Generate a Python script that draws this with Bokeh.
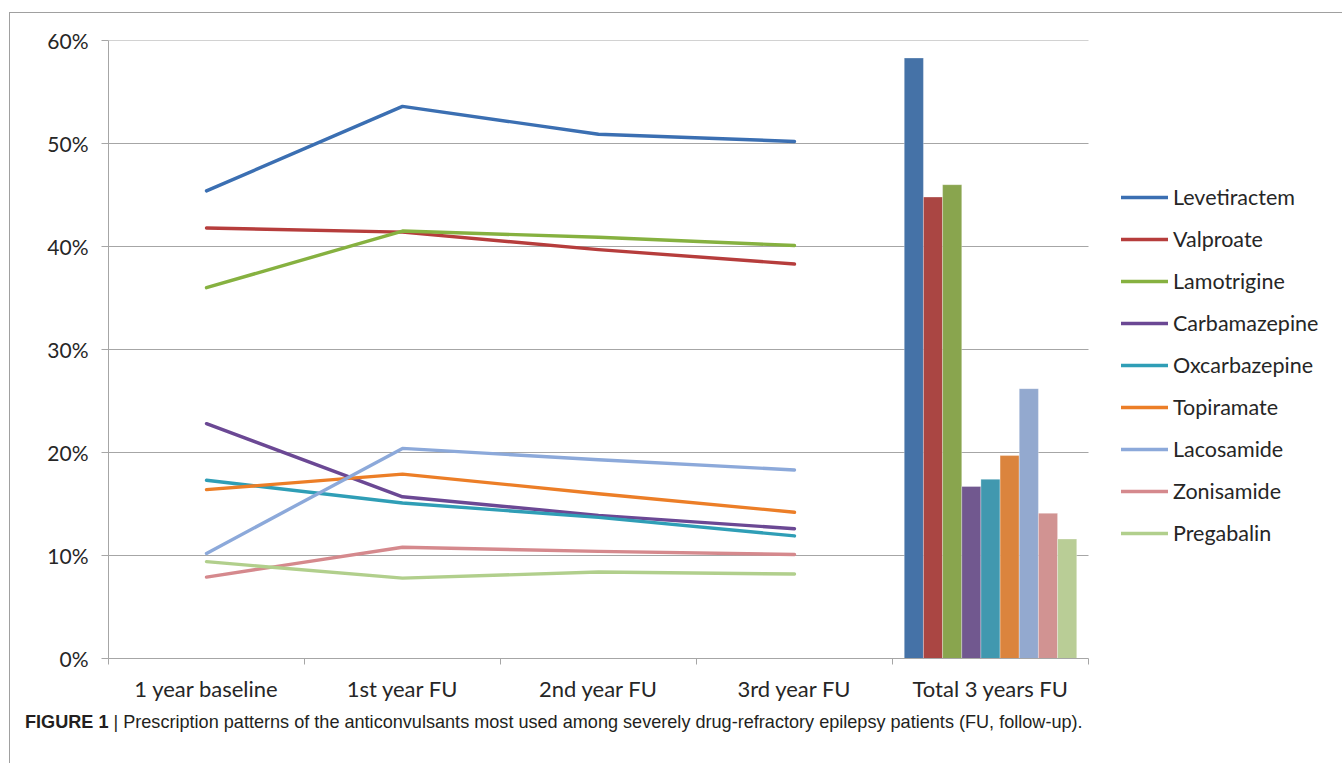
from bokeh.plotting import figure
from bokeh.layouts import column
from bokeh.models import (FixedTicker, Legend, LegendItem, ColumnDataSource,
                          Range1d, NumeralTickFormatter, Div)
from bokeh.embed import file_html
from bokeh.resources import INLINE

# ---- data -------------------------------------------------------------
periods = ["1 year baseline", "1st year FU", "2nd year FU", "3rd year FU"]
total_label = "Total 3 years FU"

drugs = ["Levetiractem", "Valproate", "Lamotrigine", "Carbamazepine",
         "Oxcarbazepine", "Topiramate", "Lacosamide", "Zonisamide", "Pregabalin"]

levetiractem = [45.4, 53.6, 50.9, 50.2]
valproate = [41.8, 41.4, 39.7, 38.3]
lamotrigine = [36.0, 41.5, 40.9, 40.1]
carbamazepine = [22.8, 15.7, 13.9, 12.6]
oxcarbazepine = [17.3, 15.1, 13.7, 11.9]
topiramate = [16.4, 17.9, 16.0, 14.2]
lacosamide = [10.2, 20.4, 19.3, 18.3]
zonisamide = [7.9, 10.8, 10.4, 10.1]
pregabalin = [9.4, 7.8, 8.4, 8.2]

total_3y = [58.3, 44.8, 46.0, 16.7, 17.4, 19.7, 26.2, 14.1, 11.6]

y_ticks = [0, 10, 20, 30, 40, 50, 60]

caption_head = "FIGURE 1"
caption_body = ("| Prescription patterns of the anticonvulsants most used among "
                "severely drug-refractory epilepsy patients (FU, follow-up).")

series = [levetiractem, valproate, lamotrigine, carbamazepine, oxcarbazepine,
          topiramate, lacosamide, zonisamide, pregabalin]

line_colors = ["#3B6FB2", "#B63D3C", "#86B140", "#6B4894", "#2F9EB6",
               "#EC7E27", "#8CA9DA", "#D5898D", "#B1CF8C"]
bar_colors = ["#4572A7", "#AA4643", "#89A54E", "#71588F", "#4198AF",
              "#DB843D", "#93A9CF", "#D19392", "#B9CD96"]

categories = periods + [total_label]
n_cat = len(categories)

# ---- sizes ------------------------------------------------------------
W = 1332            # inner width inside the page frame
H_MAIN = 700
H_CAP = 50
LEFT = 98           # plot area starts here
AXIS_END = 1078     # x-axis ends here; legend sits to the right
TOP = 27
BOTTOM = 645
px_per_cat = (AXIS_END - LEFT) / n_cat
x_end = n_cat + (W - AXIS_END) / px_per_cat

axis_font = "Lato"
text_color = "#262626"
grid_gray = "#A6A6A6"

# ---- main chart -------------------------------------------------------
p = figure(width=W, height=H_MAIN, output_backend="svg", toolbar_location=None,
           x_range=Range1d(0, x_end), y_range=Range1d(0, 60),
           min_border_left=LEFT, min_border_right=0,
           min_border_top=TOP, min_border_bottom=H_MAIN - BOTTOM,
           background_fill_color="white", border_fill_color="white")
p.outline_line_color = None

# y axis
p.yaxis.ticker = FixedTicker(ticks=y_ticks)
p.yaxis.formatter = NumeralTickFormatter(format="0")
p.yaxis.major_label_overrides = {t: f"{t}%" for t in y_ticks}
p.yaxis.axis_line_color = grid_gray
p.yaxis.major_tick_line_color = grid_gray
p.yaxis.major_tick_out = 7
p.yaxis.major_tick_in = 0
p.yaxis.minor_tick_line_color = None
p.yaxis.major_label_standoff = 13
p.yaxis.major_label_text_font = axis_font
p.yaxis.major_label_text_font_size = "21px"
p.yaxis.major_label_text_color = text_color

# x axis: labels at category centres, tick marks at category boundaries
centers = [i + 0.5 for i in range(n_cat)]
p.xaxis.ticker = FixedTicker(ticks=centers, minor_ticks=list(range(n_cat + 1)))
p.xaxis.bounds = (0, n_cat)
p.xaxis.major_label_overrides = {c: lab for c, lab in zip(centers, categories)}
p.xaxis.axis_line_color = grid_gray
p.xaxis.major_tick_line_color = None
p.xaxis.minor_tick_line_color = grid_gray
p.xaxis.minor_tick_out = 6
p.xaxis.minor_tick_in = 0
p.xaxis.major_label_standoff = 10
p.xaxis.major_label_text_font = axis_font
p.xaxis.major_label_text_font_size = "22px"
p.xaxis.major_label_text_color = text_color

# horizontal gridlines limited to the category span
p.xgrid.grid_line_color = None
p.ygrid.grid_line_color = None
grid_y = y_ticks[1:]
p.segment(x0=[0] * len(grid_y), x1=[n_cat] * len(grid_y), y0=grid_y, y1=grid_y,
          line_color=grid_gray, line_width=1, level="underlay")

# lines for the yearly periods
line_x = centers[:len(periods)]
renderers = []
for name, vals, col in zip(drugs, series, line_colors):
    src = ColumnDataSource(dict(x=line_x, y=vals))
    r = p.line("x", "y", source=src, line_color=col, line_width=3.4,
               line_cap="round", line_join="round")
    renderers.append((name, r))

# clustered bars for the 3-year total
group_width = 0.88
bw = group_width / len(drugs)
bar_center = centers[-1]
bar_x = [bar_center - group_width / 2 + bw * (i + 0.5) for i in range(len(drugs))]
bar_src = ColumnDataSource(dict(x=bar_x, top=total_3y, color=bar_colors))
p.vbar(x="x", top="top", bottom=0, width=bw, source=bar_src,
       fill_color="color", line_color="white", line_width=0.5, line_alpha=0.6)

# legend to the right of the axis
legend = Legend(items=[LegendItem(label=n, renderers=[r]) for n, r in renderers],
                location=(1111 - LEFT, BOTTOM - 533),
                glyph_width=47, glyph_height=26, label_height=26,
                spacing=16, padding=0, margin=0, label_standoff=5,
                border_line_color=None, background_fill_alpha=0,
                label_text_font=axis_font, label_text_font_size="21.5px",
                label_text_color=text_color)
p.add_layout(legend, "center")

# ---- caption ----------------------------------------------------------
caption = Div(
    text=f'<span style="font-weight:bold">{caption_head}</span> {caption_body}',
    width=W, height=H_CAP,
    styles={"font-family": "'Liberation Sans', Arial, sans-serif",
            "font-size": "18.1px", "line-height": "19px", "color": "#231F20",
            "padding-left": "15px", "margin": "0", "white-space": "nowrap"})

frame_line = "1px solid #A0A0A0"
layout = column(p, caption, spacing=0, margin=(12, 0, 0, 9),
                styles={"border-top": frame_line, "border-left": frame_line})

open("out.html", "w").write(file_html(layout, INLINE))
